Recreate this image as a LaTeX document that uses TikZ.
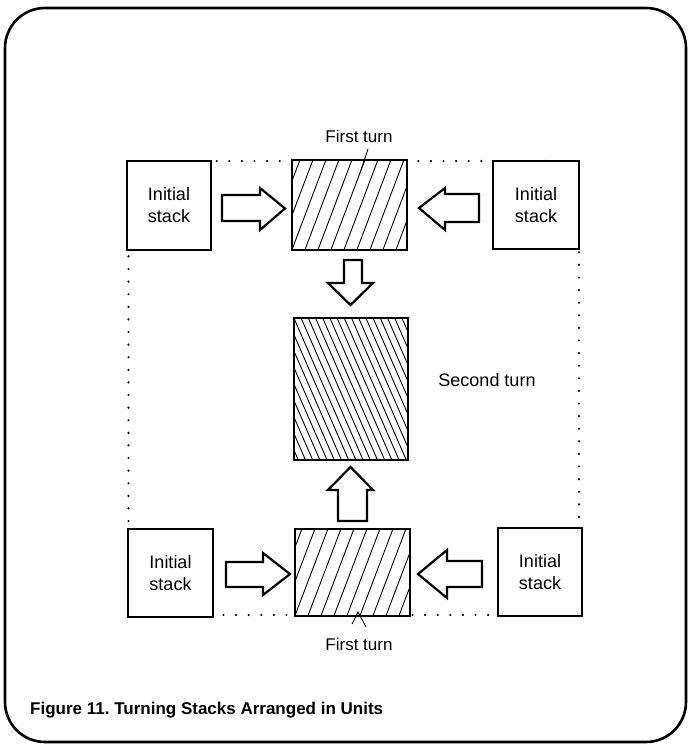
\documentclass[tikz,border=0pt]{standalone}
\usepackage{fontspec}
\setmainfont{Liberation Sans}
\usetikzlibrary{calc}
\frenchspacing
\begin{document}
\begin{tikzpicture}[x=1pt,y=-1pt,
  stackbox/.style={fill=white, minimum width=84pt, minimum height=88pt, align=center, inner sep=0pt, font=\fontsize{18}{22}\selectfont},
  turnbox/.style={fill=white, inner sep=0pt},
  border/.style={line width=2.2pt, line join=miter},
  blockarr/.style={draw, line width=2.2pt, fill=white, line join=miter},
  hatch/.style={line width=0.9pt},
  dotline/.style={line width=2.4pt, line cap=round, dash pattern=on 0pt off 12.6pt},
  lbl/.style={font=\fontsize{17}{20}\selectfont, inner sep=0pt},
  leader/.style={line width=0.9pt}]
\useasboundingbox (0,0) rectangle (689,747);
% outer frame
\node[draw, line width=2.6pt, rounded corners=40pt, minimum width=681pt, minimum height=734pt, inner sep=0pt] (frame) at (345.5,375) {};
% dotted outline
\coordinate (d1) at (128.5,161);
\coordinate (d2) at (579,161);
\coordinate (d3) at (579,615);
\coordinate (d4) at (128.5,615);
\draw[dotline] (d1) -- (d2) -- (d3) -- (d4) -- cycle;
% initial stacks
\node[stackbox] (s1) at (169,205.5) {Initial\\stack};
\node[stackbox, minimum width=86pt] (s2) at (536,205) {Initial\\stack};
\node[stackbox, minimum width=85pt] (s3) at (170.5,573) {Initial\\stack};
\node[stackbox] (s4) at (540,572) {Initial\\stack};
\foreach \n in {s1,s2,s3,s4} \draw[border] (\n.south west) rectangle (\n.north east);
% turn boxes
\node[turnbox, minimum width=115pt, minimum height=90pt] (t1) at (349.5,205) {};
\node[turnbox, minimum width=114pt, minimum height=142pt] (t2) at (351,389) {};
\node[turnbox, minimum width=115pt, minimum height=87pt] (t3) at (352.5,572.5) {};
% hatching
\begin{scope}
  \clip (t1.south west) rectangle (t1.north east);
  \foreach \i in {-4,...,10} \draw[hatch] ($(t1.south west)+(\i*13,0)$) -- ++(34,-90);
\end{scope}
\begin{scope}
  \clip (t3.south west) rectangle (t3.north east);
  \foreach \i in {-4,...,10} \draw[hatch] ($(t3.south west)+(\i*13,0)$) -- ++(33,-87);
\end{scope}
\begin{scope}
  \clip (t2.south west) rectangle (t2.north east);
  \foreach \i in {-10,...,17} \draw[hatch] ($(t2.north west)+(\i*7.2,0)$) -- ++(62,142);
\end{scope}
\foreach \n in {t1,t2,t3} \draw[border] (\n.south west) rectangle (\n.north east);
% block arrows
\draw[blockarr] (222,195) -- (260,195) -- (260,188) -- (285,208.5) -- (260,230) -- (260,221) -- (222,221) -- cycle;
\draw[blockarr] (479,194) -- (445,194) -- (445,188) -- (419,208) -- (445,230) -- (445,222) -- (479,222) -- cycle;
\draw[blockarr] (344,260) -- (362,260) -- (362,283) -- (373,283) -- (350.5,305) -- (328,283) -- (344,283) -- cycle;
\draw[blockarr] (338,521) -- (367,521) -- (367,490) -- (373,490) -- (350.5,467) -- (328,490) -- (338,490) -- cycle;
\draw[blockarr] (226,562) -- (263,562) -- (263,553) -- (290,574) -- (263,595) -- (263,587) -- (226,587) -- cycle;
\draw[blockarr] (482,561) -- (447,561) -- (447,550) -- (418,574) -- (447,598) -- (447,587) -- (482,587) -- cycle;
% labels
\node[lbl] (ft1) at (359,136) {First turn};
\node[lbl] (ft2) at (359,644) {First turn};
\node[lbl, font=\fontsize{18}{22}\selectfont] (st) at (487,380) {Second turn};
\coordinate (l1a) at (368,149);
\coordinate (l1b) at (361,170);
\draw[leader] (l1a) -- (l1b);
\coordinate (l2a) at (358,612);
\coordinate (l2b) at (352,624);
\coordinate (l2c) at (366,627);
\draw[leader] (l2b) -- (l2a) -- (l2c);
% caption
\node[anchor=base west, inner sep=0pt, font=\bfseries\fontsize{17}{20}\selectfont] (cap) at (30,714) {Figure 11. Turning Stacks Arranged in Units};
\end{tikzpicture}
\end{document}
